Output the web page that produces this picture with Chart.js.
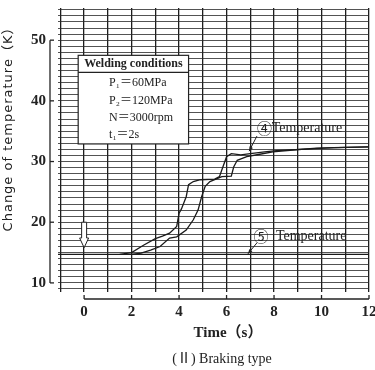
<!DOCTYPE html>
<html>
<head>
<meta charset="utf-8">
<script src="https://cdn.jsdelivr.net/npm/chart.js@4.4.1/dist/chart.umd.min.js"></script>
<style>
  html, body { margin: 0; padding: 0; background: #fff; }
  canvas { display: block; }
</style>
</head>
<body>
<canvas id="tempChart" width="375" height="370"></canvas>
<script>
// Curve that rises first
const timeA = [1.5, 2.0, 2.5, 3.0, 3.3, 3.6, 3.9, 4.0, 4.1, 4.3, 4.4, 4.6, 4.9, 5.5, 5.7, 5.8, 6.0, 6.2, 6.6, 7.0, 7.6, 8.1, 9.1, 10.5, 12.0];
const tempA = [14.7, 15.0, 16.2, 17.3, 17.7, 18.2, 19.3, 21.5, 22.2, 24.2, 26.2, 26.7, 27.0, 27.1, 27.5, 28.6, 30.8, 31.3, 31.1, 31.3, 31.6, 31.8, 32.0, 32.3, 32.4];
// Curve that rises later
const timeB = [2.0, 2.4, 2.8, 3.2, 3.6, 3.9, 4.3, 4.6, 4.8, 4.95, 5.1, 5.3, 5.8, 6.2, 6.3, 6.45, 6.85, 7.4, 7.95, 8.8, 9.8, 12.0];
const tempB = [14.7, 14.9, 15.4, 16.0, 17.4, 17.6, 18.7, 20.4, 22.0, 24.2, 25.9, 26.7, 27.5, 27.6, 29.1, 30.2, 30.8, 31.2, 31.6, 31.9, 32.2, 32.4];
// Base line
const timeBase = [-1.1, 12.0];
const tempBase = [14.7, 14.7];

const xTickLabels = [0, 2, 4, 6, 8, 10, 12];
const yTickLabels = [10, 20, 30, 40, 50];
const conditions = ['P₁＝60MPa', 'P₂＝120MPa', 'N＝3000rpm', 't₁＝2s'];

function toPoints(xs, ys) {
  return xs.map((x, i) => ({ x: x, y: ys[i] }));
}

const serif = "'Liberation Serif', 'Noto Sans CJK JP', serif";

// draws the axes, the condition box and the labels on top of the paper grid
const paperPlugin = {
  id: 'paper',
  afterDatasetsDraw(chart) {
    const ctx = chart.ctx;
    const xs = chart.scales.x;
    const ys = chart.scales.y;
    const px = v => xs.getPixelForValue(v);
    const py = v => ys.getPixelForValue(v);
    ctx.save();
    ctx.strokeStyle = '#222';
    ctx.fillStyle = '#222';

    // y axis bracket
    const ax = 50;
    ctx.lineWidth = 1.3;
    ctx.beginPath();
    ctx.moveTo(ax, py(50));
    ctx.lineTo(ax, py(10));
    ctx.stroke();
    ctx.font = 'bold 15px ' + serif;
    ctx.textAlign = 'right';
    ctx.textBaseline = 'middle';
    yTickLabels.forEach(v => {
      ctx.beginPath();
      ctx.moveTo(ax, py(v));
      ctx.lineTo(ax + 4, py(v));
      ctx.stroke();
      ctx.fillText(String(v), ax - 4, py(v));
    });

    // x axis below the grid
    const ay = 299;
    ctx.beginPath();
    ctx.moveTo(px(0), ay);
    ctx.lineTo(px(12), ay);
    ctx.stroke();
    ctx.textAlign = 'center';
    xTickLabels.forEach(v => {
      ctx.beginPath();
      ctx.moveTo(px(v), ay);
      ctx.lineTo(px(v), ay - 4);
      ctx.stroke();
      ctx.fillText(String(v), px(v), 312);
    });

    // axis titles and caption
    ctx.font = "bold 15px " + serif;
    ctx.fillText('Time（s）', 228, 333);
    ctx.font = "14px " + serif;
    ctx.fillText('(Ⅱ) Braking type', 222, 359);

    ctx.save();
    ctx.translate(9, 126);
    ctx.rotate(-Math.PI / 2);
    ctx.font = "13px 'DejaVu Sans', 'Noto Sans CJK JP', sans-serif";
    ctx.letterSpacing = '1px';
    ctx.fillText('Change of temperature（K）', 0, 0);
    ctx.restore();

    // welding conditions box
    const bx0 = px(-0.25), bx1 = px(4.4), by0 = py(47.5), by1 = py(32.9);
    ctx.fillStyle = '#fff';
    ctx.fillRect(bx0, by0, bx1 - bx0, by1 - by0);
    ctx.fillStyle = '#222';
    ctx.lineWidth = 1.2;
    ctx.strokeRect(bx0, by0, bx1 - bx0, by1 - by0);
    ctx.beginPath();
    ctx.moveTo(bx0, py(44.7));
    ctx.lineTo(bx1, py(44.7));
    ctx.stroke();
    ctx.font = 'bold 12px ' + serif;
    ctx.textAlign = 'center';
    ctx.fillText('Welding conditions', (bx0 + bx1) / 2, py(46.1));
    ctx.textAlign = 'left';
    ctx.font = '12px ' + serif;
    const rows = [42.9, 40.0, 37.2, 34.4];
    conditions.forEach((t, i) => ctx.fillText(t, px(1.05), py(rows[i])));

    // curve labels with pointer lines
    ctx.textAlign = 'center';
    ctx.font = "15px 'Noto Sans CJK JP', sans-serif";
    ctx.fillText('④', px(7.6), py(35.5));
    ctx.fillText('⑤', px(7.45), py(17.6));
    ctx.textAlign = 'left';
    ctx.font = '14px ' + serif;
    ctx.fillText('Temperature', px(7.9), py(35.5));
    ctx.fillText('Temperature', px(8.08), py(17.6));

    function pointer(x0, y0, x1, y1) {
      const a = Math.atan2(py(y1) - py(y0), px(x1) - px(x0));
      ctx.lineWidth = 1;
      ctx.beginPath();
      ctx.moveTo(px(x0), py(y0));
      ctx.lineTo(px(x1), py(y1));
      ctx.stroke();
      ctx.beginPath();
      ctx.moveTo(px(x1), py(y1));
      ctx.lineTo(px(x1) - 5 * Math.cos(a - 0.4), py(y1) - 5 * Math.sin(a - 0.4));
      ctx.lineTo(px(x1) - 5 * Math.cos(a + 0.4), py(y1) - 5 * Math.sin(a + 0.4));
      ctx.closePath();
      ctx.fill();
    }
    pointer(7.28, 34.2, 6.95, 31.7);
    pointer(7.28, 16.6, 6.9, 14.8);

    // hollow start arrow at t = 0
    const cx = px(0);
    const s0 = py(20.0), s1 = py(17.4), tip = py(15.8);
    ctx.beginPath();
    ctx.moveTo(cx - 2.5, s0);
    ctx.lineTo(cx + 2.5, s0);
    ctx.lineTo(cx + 2.5, s1);
    ctx.lineTo(cx + 4.5, s1);
    ctx.lineTo(cx, tip);
    ctx.lineTo(cx - 4.5, s1);
    ctx.lineTo(cx - 2.5, s1);
    ctx.closePath();
    ctx.fillStyle = '#fff';
    ctx.fill();
    ctx.lineWidth = 1;
    ctx.stroke();

    ctx.restore();
  }
};

const ctx = document.getElementById('tempChart').getContext('2d');
new Chart(ctx, {
  type: 'scatter',
  data: {
    datasets: [
      { label: 'base', data: toPoints(timeBase, tempBase) },
      { label: 'curve A', data: toPoints(timeA, tempA) },
      { label: 'curve B', data: toPoints(timeB, tempB) }
    ]
  },
  options: {
    responsive: false,
    animation: false,
    devicePixelRatio: 1,
    showLine: true,
    layout: { padding: { left: 58, right: 6, top: 8, bottom: 78 } },
    elements: {
      point: { radius: 0 },
      line: { borderColor: '#1a1a1a', borderWidth: 1.3, tension: 0 }
    },
    plugins: {
      legend: { display: false },
      tooltip: { enabled: false }
    },
    scales: {
      x: {
        type: 'linear',
        min: -1.1,
        max: 12,
        ticks: { display: false, stepSize: 1, includeBounds: false },
        grid: { color: '#1e1e1e', lineWidth: 1.3, drawTicks: false },
        border: { display: false }
      },
      y: {
        type: 'linear',
        min: 8.5,
        max: 55.3,
        ticks: { display: false, stepSize: 1, includeBounds: false },
        grid: { color: 'rgba(40,40,40,0.8)', lineWidth: 1, drawTicks: false },
        border: { display: false }
      }
    }
  },
  plugins: [paperPlugin]
});
</script>
</body>
</html>
